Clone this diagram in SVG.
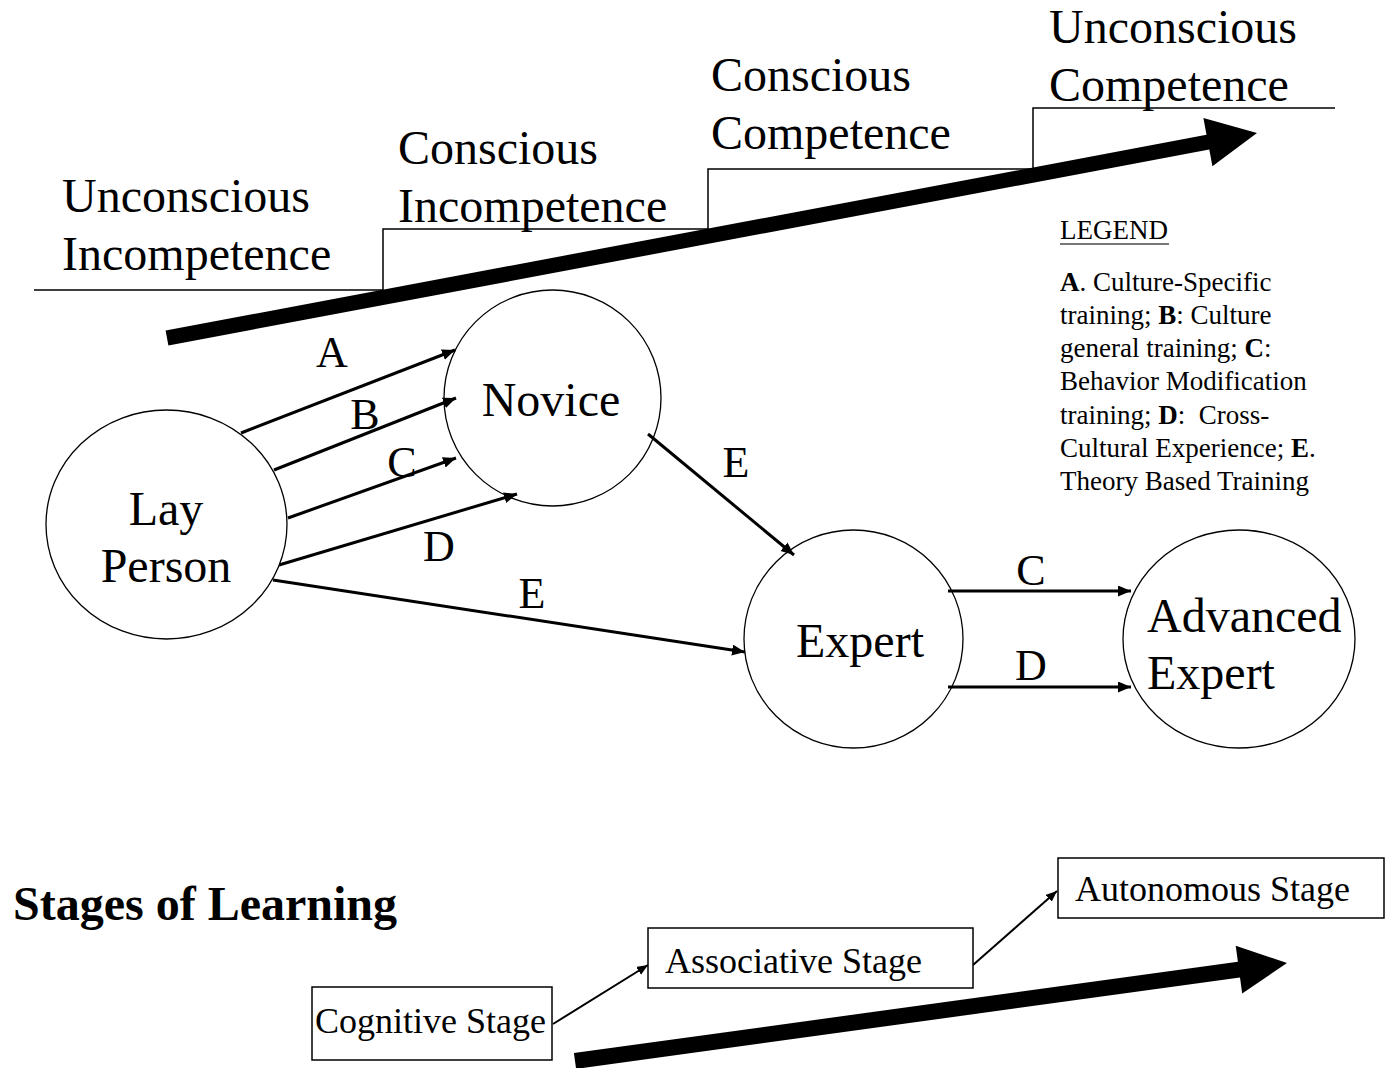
<svg xmlns="http://www.w3.org/2000/svg" width="1392" height="1068" viewBox="0 0 1392 1068">
<defs>
<style>
text{font-family:"Liberation Serif","Times New Roman",serif;fill:#000}
.big{font-size:48px}
.lbl{font-size:44px;text-anchor:middle}
.leg{font-size:27px}
.stage{font-size:36px}
.node{fill:#fff;stroke:#000;stroke-width:1.3}
.box{fill:#fff;stroke:#000;stroke-width:1.5}
.con{fill:none;stroke:#000;stroke-width:3;marker-end:url(#ah)}
.con2{fill:none;stroke:#000;stroke-width:2;marker-end:url(#ah2)}
.stair{fill:none;stroke:#000;stroke-width:1.5}
</style>
<marker id="ah" markerUnits="userSpaceOnUse" markerWidth="14" markerHeight="12" refX="13" refY="5.5" orient="auto" viewBox="0 0 14 12">
<path d="M0,0 L13,5.5 L0,11 z" fill="#000"/>
</marker>
<marker id="ah2" markerUnits="userSpaceOnUse" markerWidth="12" markerHeight="10" refX="11" refY="4.5" orient="auto" viewBox="0 0 12 10">
<path d="M0,0 L11,4.5 L0,9 z" fill="#000"/>
</marker>
</defs>
<rect width="1392" height="1068" fill="#fff"/>

<g id="competence-scale">
<polyline class="stair" points="34,290 383,290 383,229 708,229 708,169 1033,169 1033,108 1335,108"/>
<polygon points="165.6,330.6 1206.5,134.8 1203.4,118.1 1257,133 1212.4,166.3 1209.3,149.6 168.4,345.4" fill="#000"/>
<text class="big" x="62" y="212">Unconscious</text>
<text class="big" x="62" y="270">Incompetence</text>
<text class="big" x="398" y="164">Conscious</text>
<text class="big" x="398" y="222">Incompetence</text>
<text class="big" x="711" y="91">Conscious</text>
<text class="big" x="711" y="149">Competence</text>
<text class="big" x="1049" y="43">Unconscious</text>
<text class="big" x="1049" y="101">Competence</text>
</g>

<g id="legend">
<text class="leg" x="1060" y="239">LEGEND</text>
<line x1="1060" y1="244" x2="1169" y2="244" stroke="#777" stroke-width="2"/>
<text class="leg" x="1060" y="291"><tspan font-weight="bold">A</tspan>. Culture-Specific</text>
<text class="leg" x="1060" y="324">training; <tspan font-weight="bold">B</tspan>: Culture</text>
<text class="leg" x="1060" y="357">general training; <tspan font-weight="bold">C</tspan>:</text>
<text class="leg" x="1060" y="390">Behavior Modification</text>
<text class="leg" x="1060" y="424" xml:space="preserve">training; <tspan font-weight="bold">D</tspan>:  Cross-</text>
<text class="leg" x="1060" y="457">Cultural Experience; <tspan font-weight="bold">E</tspan>.</text>
<text class="leg" x="1060" y="490">Theory Based Training</text>
</g>

<g id="connectors">
<line class="con" x1="241" y1="433" x2="455" y2="350"/>
<line class="con" x1="274" y1="470" x2="456" y2="398"/>
<line class="con" x1="288" y1="518" x2="456" y2="458"/>
<line class="con" x1="279" y1="565" x2="517" y2="494"/>
<line class="con" x1="273" y1="580" x2="745" y2="652"/>
<line class="con" x1="648" y1="434" x2="794" y2="555"/>
<line class="con" x1="948" y1="591" x2="1131" y2="591"/>
<line class="con" x1="948" y1="687" x2="1131" y2="687"/>
<line class="con2" x1="553" y1="1024" x2="648" y2="965"/>
<line class="con2" x1="973" y1="965" x2="1057" y2="891"/>
<text class="lbl" x="332" y="367">A</text>
<text class="lbl" x="365" y="429">B</text>
<text class="lbl" x="402" y="477">C</text>
<text class="lbl" x="439" y="561">D</text>
<text class="lbl" x="532" y="608">E</text>
<text class="lbl" x="736" y="477">E</text>
<text class="lbl" x="1031" y="585">C</text>
<text class="lbl" x="1031" y="680">D</text>
</g>

<g id="node-lay-person">
<ellipse class="node" cx="166.5" cy="524.5" rx="120.5" ry="114.5"/>
<text class="big" x="166" y="525" text-anchor="middle">Lay</text>
<text class="big" x="166" y="582" text-anchor="middle">Person</text>
</g>
<g id="node-novice">
<ellipse class="node" cx="552.5" cy="398" rx="108.5" ry="108" fill-opacity="0"/>
<text class="big" x="551" y="416" text-anchor="middle">Novice</text>
</g>
<g id="node-expert">
<ellipse class="node" cx="853.5" cy="639" rx="109.5" ry="109" fill-opacity="0"/>
<text class="big" x="860" y="657" text-anchor="middle">Expert</text>
</g>
<g id="node-advanced-expert">
<ellipse class="node" cx="1239" cy="639" rx="116" ry="109" fill-opacity="0"/>
<text class="big" x="1147" y="632">Advanced</text>
<text class="big" x="1147" y="689">Expert</text>
</g>

<g id="stages-title">
<text x="13" y="920" font-size="48" font-weight="bold">Stages of Learning</text>
<polygon points="573.9,1053.1 1237.9,961.7 1235.7,945.8 1287,963 1242.2,993.4 1240,977.5 576.1,1068.9" fill="#000"/>
</g>
<g id="node-cognitive">
<rect class="box" x="312" y="987" width="240" height="73"/>
<text class="stage" x="315" y="1033">Cognitive Stage</text>
</g>
<g id="node-associative">
<rect class="box" x="648" y="928" width="325" height="60"/>
<text class="stage" x="665" y="973">Associative Stage</text>
</g>
<g id="node-autonomous">
<rect class="box" x="1058" y="858" width="326" height="60"/>
<text class="stage" x="1075" y="901">Autonomous Stage</text>
</g>
</svg>
